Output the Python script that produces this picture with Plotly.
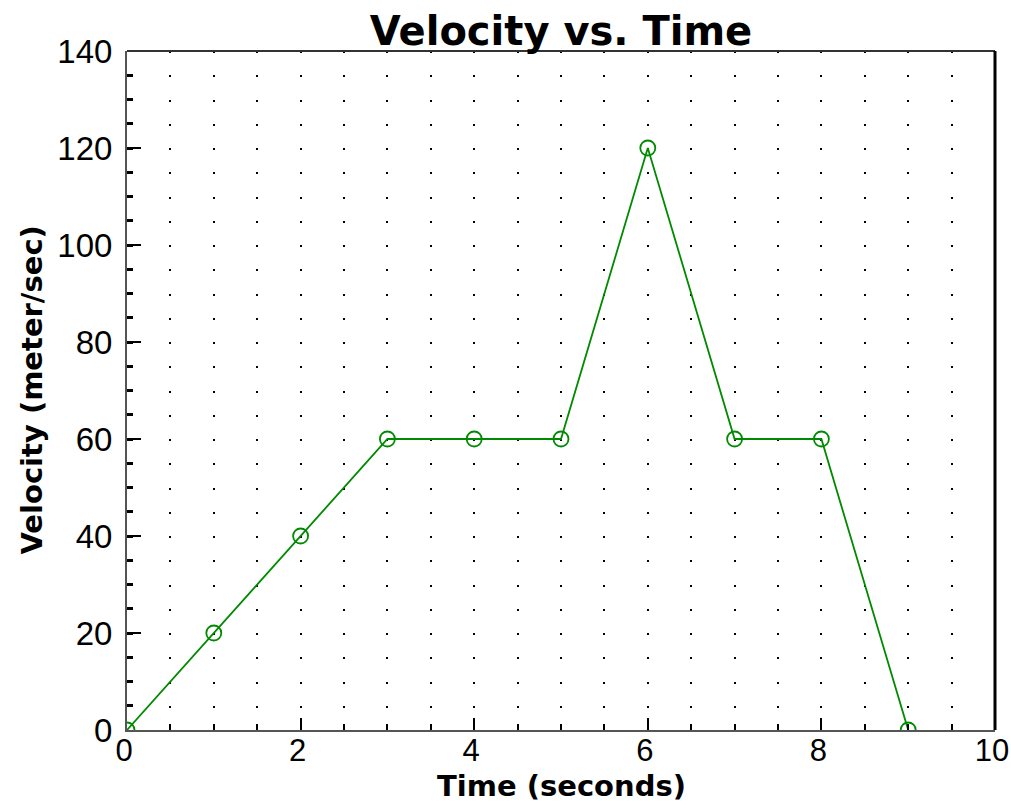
import plotly.graph_objects as go

time_s = [0, 1, 2, 3, 4, 5, 6, 7, 8, 9]
velocity = [0, 20, 40, 60, 60, 60, 120, 60, 60, 0]
x_ticks = [0, 2, 4, 6, 8, 10]
y_ticks = [0, 20, 40, 60, 80, 100, 120, 140]

TICKFONT = "Liberation Sans, Arial"
BOLDFONT = "DejaVu Sans, Liberation Sans"

fig = go.Figure()
fig.add_trace(go.Scatter(
    x=time_s, y=velocity, mode="lines+markers",
    line=dict(color="#008a00", width=1.8),
    marker=dict(symbol="circle-open", size=15, color="#008a00", line=dict(width=1.8)),
    cliponaxis=True, showlegend=False,
))

W, H = 1011, 809
L, R, T, B = 127, 16, 51, 79
plot_h = H - T - B
step = plot_h / 28.0  # pixels for 5 velocity units

fig.update_layout(
    width=W, height=H,
    margin=dict(l=L, r=R, t=T, b=B, pad=0, autoexpand=False),
    paper_bgcolor="white", plot_bgcolor="white",
    font=dict(family=TICKFONT, color="black"),
    title=dict(text="<b>Velocity vs. Time</b>", x=0.5 * (L + W - R) / W, xanchor="center",
               y=1 - 31 / H, yanchor="middle", yref="container",
               font=dict(family=BOLDFONT, size=40, color="black")),
    xaxis=dict(
        range=[0, 10], tickvals=x_ticks, ticktext=[str(v) for v in x_ticks],
        ticks="inside", ticklen=12, tickwidth=2, tickcolor="black",
        showline=True, linecolor="#555555", linewidth=2,
        showgrid=True, gridcolor="black", gridwidth=2,
        griddash="2px,%.3fpx" % (step - 2),
        minor=dict(dtick=0.5, tick0=0, ticks="inside", ticklen=6, tickwidth=2, tickcolor="black",
                   showgrid=True, gridcolor="black", gridwidth=2,
                   griddash="2px,%.3fpx" % (step - 2)),
        zeroline=False, tickfont=dict(family=TICKFONT, size=31), ticklabelstandoff=-8,
        ticklabelshift=-3, ticklabeloverflow="allow", automargin=False,
    ),
    yaxis=dict(
        range=[0, 140], tickvals=y_ticks, ticktext=[str(v) for v in y_ticks],
        ticks="inside", ticklen=14, tickwidth=2, tickcolor="black",
        showline=True, linecolor="#555555", linewidth=2,
        showgrid=False,
        minor=dict(dtick=5, tick0=0, ticks="inside", ticklen=6, tickwidth=3, tickcolor="black",
                   showgrid=False),
        zeroline=False, tickfont=dict(family=TICKFONT, size=33), ticklabelstandoff=6,
        ticklabeloverflow="allow", automargin=False,
    ),
)

fig.add_shape(type="line", xref="paper", yref="paper", x0=0, x1=1, y0=1, y1=1,
              line=dict(color="#333333", width=2))
fig.add_shape(type="line", xref="paper", yref="paper", x0=1, x1=1, y0=0, y1=1,
              line=dict(color="black", width=3))

fig.add_annotation(text="<b>Time (seconds)</b>", xref="paper", yref="paper",
                   x=0.5, y=-(786 - (H - B)) / plot_h, xanchor="center", yanchor="middle",
                   showarrow=False, font=dict(family=BOLDFONT, size=29, color="black"))
fig.add_annotation(text="<b>Velocity (meter/sec)</b>", xref="paper", yref="paper",
                   x=-(L - 31) / (W - L - R), y=0.5, xanchor="center", yanchor="middle",
                   textangle=-90, showarrow=False, font=dict(family=BOLDFONT, size=29, color="black"))

fig.write_html("out.html", config={"displayModeBar": False},
               post_script="document.body.style.margin='0';document.body.style.overflow='hidden';")
